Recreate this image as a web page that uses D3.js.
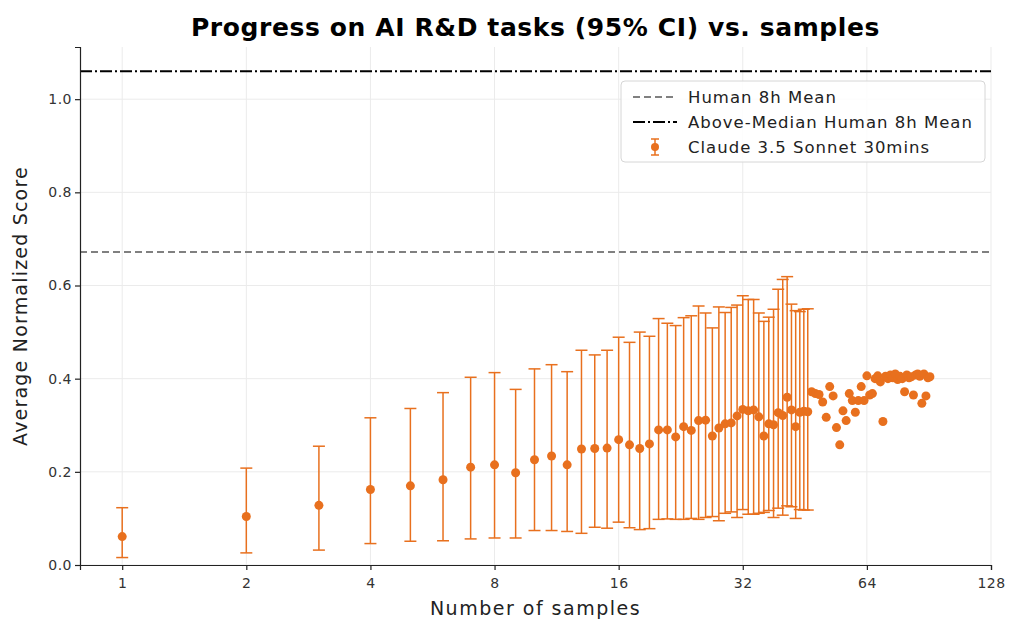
<!DOCTYPE html>
<html>
<head>
<meta charset="utf-8">
<script src="https://cdn.jsdelivr.net/npm/d3@7"></script>
<style>
  body { margin: 0; background: #fff; }
  svg { font-family: "DejaVu Sans", sans-serif; }
</style>
</head>
<body>
<svg id="chart" width="1018" height="638"></svg>
<script>
// Number of samples (x) and the mean normalized score for each
const sampleCounts = [
  1, 2, 3, 4, 5, 6, 7, 8, 9, 10, 11, 12, 13, 14, 15, 16, 17, 18, 19, 20,
  21, 22, 23, 24, 25, 26, 27, 28, 29, 30, 31, 32, 33, 34, 35, 36, 37, 38, 39, 40,
  41, 42, 43, 44, 45, 46, 47, 48, 49, 50, 51, 52, 53, 54, 55, 56, 57, 58, 59, 60,
  61, 62, 63, 64, 65, 66, 67, 68, 69, 70, 71, 72, 73, 74, 75, 76, 77, 78, 79, 80,
  81, 82, 83, 84, 85, 86, 87, 88, 89, 90, 91
];
const meanScores = [
  0.061, 0.104, 0.128, 0.162, 0.170, 0.183, 0.210, 0.215, 0.198, 0.226,
  0.234, 0.215, 0.249, 0.250, 0.251, 0.269, 0.258, 0.250, 0.260, 0.290,
  0.290, 0.275, 0.297, 0.289, 0.310, 0.311, 0.277, 0.294, 0.303, 0.305,
  0.320, 0.334, 0.331, 0.333, 0.318, 0.277, 0.303, 0.301, 0.327, 0.321,
  0.360, 0.333, 0.297, 0.328, 0.330, 0.329, 0.372, 0.368, 0.366, 0.350,
  0.317, 0.383, 0.363, 0.295, 0.258, 0.331, 0.310, 0.368, 0.353, 0.328,
  0.353, 0.383, 0.353, 0.406, 0.365, 0.368, 0.400, 0.406, 0.393, 0.308,
  0.405, 0.400, 0.408, 0.402, 0.410, 0.398, 0.405, 0.400, 0.372, 0.408,
  0.402, 0.404, 0.365, 0.408, 0.410, 0.405, 0.347, 0.410, 0.363, 0.402,
  0.404
];
// 95% CI bounds, only available for the first 46 sample counts
const ciLow = [
  0.016, 0.026, 0.032, 0.046, 0.051, 0.052, 0.056, 0.058, 0.058, 0.074,
  0.074, 0.072, 0.068, 0.081, 0.079, 0.092, 0.080, 0.076, 0.078, 0.098,
  0.099, 0.098, 0.098, 0.100, 0.098, 0.102, 0.104, 0.095, 0.111, 0.114,
  0.102, 0.119, 0.109, 0.109, 0.111, 0.113, 0.117, 0.102, 0.122, 0.107,
  0.127, 0.125, 0.100, 0.119, 0.118, 0.118
];
const ciHigh = [
  0.123, 0.208, 0.255, 0.316, 0.336, 0.370, 0.403, 0.413, 0.377, 0.421,
  0.430, 0.415, 0.461, 0.451, 0.461, 0.489, 0.478, 0.500, 0.491, 0.529,
  0.519, 0.514, 0.531, 0.535, 0.556, 0.541, 0.509, 0.554, 0.542, 0.553,
  0.558, 0.578, 0.570, 0.570, 0.541, 0.523, 0.532, 0.549, 0.592, 0.613,
  0.619, 0.560, 0.546, 0.544, 0.549, 0.550
];
const humanMean = 0.672;
const aboveMedianHumanMean = 1.06;
const xTicks = [1, 2, 4, 8, 16, 32, 64, 128];
const yTicks = [0, 0.2, 0.4, 0.6, 0.8, 1.0];

const orange = "#e8701e";
const width = 1018, height = 638;
const margin = { top: 47, right: 27, bottom: 73, left: 80 };

const svg = d3.select("#chart");

// Scales
const x = d3.scaleLog()
  .base(2)
  .domain([Math.pow(2, -0.34), 128])
  .range([margin.left, width - margin.right]);

const y = d3.scaleLinear()
  .domain([0, 1.112])
  .range([height - margin.bottom, margin.top]);

// Grid
svg.append("g")
  .selectAll("line")
  .data(xTicks)
  .join("line")
  .attr("x1", d => x(d)).attr("x2", d => x(d))
  .attr("y1", y.range()[1]).attr("y2", y.range()[0])
  .attr("stroke", "#ebebeb");

svg.append("g")
  .selectAll("line")
  .data(yTicks)
  .join("line")
  .attr("x1", margin.left).attr("x2", width - margin.right)
  .attr("y1", d => y(d)).attr("y2", d => y(d))
  .attr("stroke", "#ebebeb");

// Reference lines
svg.append("line")
  .attr("x1", margin.left).attr("x2", width - margin.right)
  .attr("y1", y(humanMean)).attr("y2", y(humanMean))
  .attr("stroke", "#808080")
  .attr("stroke-width", 2)
  .attr("stroke-dasharray", "7,4");

svg.append("line")
  .attr("x1", margin.left).attr("x2", width - margin.right)
  .attr("y1", y(aboveMedianHumanMean)).attr("y2", y(aboveMedianHumanMean))
  .attr("stroke", "#000")
  .attr("stroke-width", 2)
  .attr("stroke-dasharray", "12,3,2,3");

// Error bars
const ciData = ciLow.map((lo, i) => ({ n: sampleCounts[i], lo, hi: ciHigh[i] }));
const capW = 6;
const bars = svg.append("g")
  .attr("stroke", orange)
  .attr("stroke-width", 1.5);

bars.selectAll("line.stem")
  .data(ciData)
  .join("line")
  .attr("class", "stem")
  .attr("x1", d => x(d.n)).attr("x2", d => x(d.n))
  .attr("y1", d => y(d.lo)).attr("y2", d => y(d.hi));

bars.selectAll("line.capHi")
  .data(ciData)
  .join("line")
  .attr("class", "capHi")
  .attr("x1", d => x(d.n) - capW).attr("x2", d => x(d.n) + capW)
  .attr("y1", d => y(d.hi)).attr("y2", d => y(d.hi));

bars.selectAll("line.capLo")
  .data(ciData)
  .join("line")
  .attr("class", "capLo")
  .attr("x1", d => x(d.n) - capW).attr("x2", d => x(d.n) + capW)
  .attr("y1", d => y(d.lo)).attr("y2", d => y(d.lo));

// Points
svg.append("g")
  .selectAll("circle")
  .data(sampleCounts.map((n, i) => ({ n, v: meanScores[i] })))
  .join("circle")
  .attr("cx", d => x(d.n))
  .attr("cy", d => y(d.v))
  .attr("r", 4.5)
  .attr("fill", orange);

// Axes
const xAxis = svg.append("g")
  .attr("transform", `translate(0,${height - margin.bottom})`)
  .call(d3.axisBottom(x).tickValues(xTicks).tickFormat(d3.format("d")).tickSizeOuter(0).tickSize(5));

const yAxis = svg.append("g")
  .attr("transform", `translate(${margin.left},0)`)
  .call(d3.axisLeft(y).tickValues(yTicks).tickFormat(d3.format(".1f")).tickSizeOuter(0).tickSize(5));

[xAxis, yAxis].forEach(ax => {
  ax.select(".domain").attr("stroke", "#222").attr("stroke-width", 1.2);
  ax.selectAll(".tick line").attr("stroke", "#222").attr("stroke-width", 1.2);
  ax.selectAll(".tick text")
    .attr("fill", "#333")
    .style("font-size", "14px")
    .style("letter-spacing", "0.5px")
    .style("font-family", "DejaVu Sans, sans-serif");
});
xAxis.selectAll(".tick text").attr("dy", "1.05em");

// Title
svg.append("text")
  .attr("x", (margin.left + width - margin.right) / 2)
  .attr("y", 36)
  .attr("text-anchor", "middle")
  .style("font-size", "25px")
  .style("font-weight", "bold")
  .style("letter-spacing", "0.6px")
  .text("Progress on AI R&D tasks (95% CI) vs. samples");

// X-axis label
svg.append("text")
  .attr("x", (margin.left + width - margin.right) / 2)
  .attr("y", 615)
  .attr("text-anchor", "middle")
  .attr("fill", "#222")
  .style("font-size", "19px")
  .style("letter-spacing", "1.5px")
  .text("Number of samples");

// Y-axis label
svg.append("text")
  .attr("transform", "rotate(-90)")
  .attr("x", -(margin.top + height - margin.bottom) / 2)
  .attr("y", 27)
  .attr("text-anchor", "middle")
  .attr("fill", "#222")
  .style("font-size", "19px")
  .style("letter-spacing", "1.2px")
  .text("Average Normalized Score");

// Legend
const legend = svg.append("g").attr("transform", "translate(621,81)");
legend.append("rect")
  .attr("width", 364).attr("height", 81)
  .attr("rx", 4)
  .attr("fill", "#fff")
  .attr("fill-opacity", 0.85)
  .attr("stroke", "#d6d6d6");

const legendItems = [
  { label: "Human 8h Mean", type: "dash" },
  { label: "Above-Median Human 8h Mean", type: "dashdot" },
  { label: "Claude 3.5 Sonnet 30mins", type: "err" }
];
legendItems.forEach((d, i) => {
  const ly = 16 + i * 25;
  const g = legend.append("g").attr("transform", `translate(0,${ly})`);
  if (d.type === "dash") {
    g.append("line").attr("x1", 12).attr("x2", 56).attr("stroke", "#808080")
      .attr("stroke-width", 2).attr("stroke-dasharray", "7,4");
  } else if (d.type === "dashdot") {
    g.append("line").attr("x1", 12).attr("x2", 56).attr("stroke", "#000")
      .attr("stroke-width", 2).attr("stroke-dasharray", "12,3,2,3");
  } else {
    g.append("line").attr("x1", 34).attr("x2", 34).attr("y1", -8).attr("y2", 8)
      .attr("stroke", orange).attr("stroke-width", 1.5);
    g.append("line").attr("x1", 30).attr("x2", 38).attr("y1", -8).attr("y2", -8)
      .attr("stroke", orange).attr("stroke-width", 1.5);
    g.append("line").attr("x1", 30).attr("x2", 38).attr("y1", 8).attr("y2", 8)
      .attr("stroke", orange).attr("stroke-width", 1.5);
    g.append("circle").attr("cx", 34).attr("r", 4).attr("fill", orange);
  }
  g.append("text")
    .attr("x", 67)
    .attr("dy", "0.35em")
    .attr("fill", "#222")
    .style("font-size", "16.5px")
    .style("letter-spacing", "1px")
    .text(d.label);
});
</script>
</body>
</html>
